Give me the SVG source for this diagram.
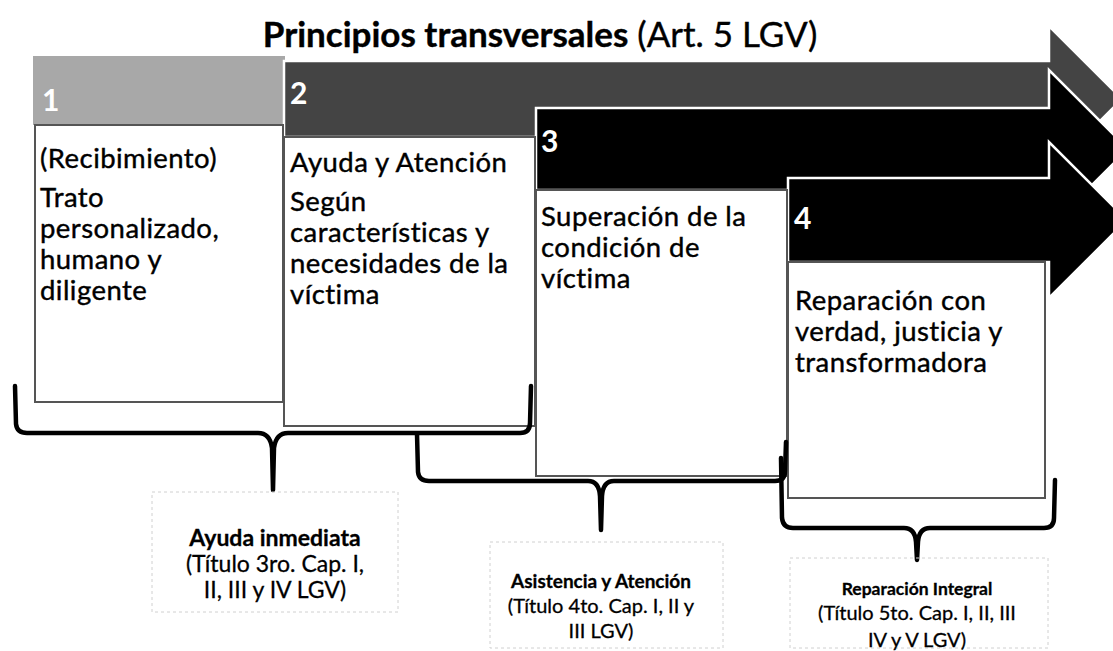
<svg xmlns="http://www.w3.org/2000/svg" width="1113" height="651" viewBox="0 0 1113 651">
<style>
.t{font-family:Lato,"Open Sans","Liberation Sans",sans-serif;fill:#000;stroke:#000;stroke-width:0.4}
.box{fill:#fff;stroke:#555;stroke-width:2}
.txt{font-size:27.5px;letter-spacing:0.45px}
.num{font-family:Lato,"Liberation Sans",sans-serif;font-weight:bold;font-size:30px;fill:#fff}
.arrow{stroke:#fff;stroke-width:2.5;stroke-linejoin:miter}
.brace{fill:none;stroke:#000;stroke-width:4.5;stroke-linejoin:round;stroke-linecap:round}
.lbox{fill:none;stroke:#d0d0d0;stroke-width:1;stroke-dasharray:3 3}
.lt{text-anchor:middle;stroke-width:0.3}
.lb{font-weight:bold}
</style>
<rect width="1113" height="651" fill="#fff"/>
<g id="title">
<text class="t" x="540" y="47" font-size="35" text-anchor="middle"><tspan font-weight="bold">Principios transversales</tspan> (Art. 5 LGV)</text>
</g>
<g id="band1">
<rect x="33" y="56" width="252" height="69" fill="#a8a8a8"/>
<text class="num" x="42" y="111">1</text>
</g>
<g id="band2">
<polygon class="arrow" points="284,61 1049,61 1049,26 1122,99 1049,172 1049,137 284,137" fill="#444"/>
<text class="num" x="290" y="104">2</text>
</g>
<g id="band3">
<polygon class="arrow" points="536,108 1049,108 1049,70 1128,149 1049,228 1049,190 536,190" fill="#000"/>
<text class="num" x="541" y="152">3</text>
</g>
<g id="band4">
<polygon class="arrow" points="788,178 1049,178 1049,142 1127,220 1049,298 1049,262 788,262" fill="#000"/>
<text class="num" x="794" y="229">4</text>
</g>
<g id="box1">
<rect class="box" x="35" y="125" width="248" height="277"/>
<text class="t txt" x="40" y="168">(Recibimiento)</text>
<text class="t txt" x="40" y="207">Trato</text>
<text class="t txt" x="40" y="238">personalizado,</text>
<text class="t txt" x="40" y="269">humano y</text>
<text class="t txt" x="40" y="300">diligente</text>
</g>
<g id="box2">
<rect class="box" x="284" y="137" width="251" height="289"/>
<text class="t txt" x="290" y="172">Ayuda y Atención</text>
<text class="t txt" x="290" y="211">Según</text>
<text class="t txt" x="290" y="242">características y</text>
<text class="t txt" x="290" y="273">necesidades de la</text>
<text class="t txt" x="290" y="304">víctima</text>
</g>
<g id="box3">
<rect class="box" x="536" y="190" width="251" height="286"/>
<text class="t txt" x="541" y="226">Superación de la</text>
<text class="t txt" x="541" y="257">condición de</text>
<text class="t txt" x="541" y="288">víctima</text>
</g>
<g id="box4">
<rect class="box" x="788" y="262" width="257" height="236"/>
<text class="t txt" x="795" y="310">Reparación con</text>
<text class="t txt" x="795" y="341">verdad, justicia y</text>
<text class="t txt" x="795" y="372">transformadora</text>
</g>
<g id="connectors">
<path class="brace" d="M15,386 L16,424 Q17,433 27,433 L258,433 Q270,433 272,448 L273,490 M273,490 L274,448 Q276,433 288,433 L520,433 Q530,433 530,423 L531,386"/>
<path class="brace" d="M417,434 L418,472 Q419,481 429,481 L588,481 Q599,481 600,496 L601,530 M601,530 L602,496 Q603,481 614,481 L775,481 Q785,481 785,471 L786,442"/>
<path class="brace" d="M781,458 L782,518 Q783,528 793,528 L904,528 Q915,528 916,542 L917,560 M917,560 L918,542 Q919,528 930,528 L1044,528 Q1054,528 1054,518 L1055,480"/>
</g>
<g id="label1">
<rect class="lbox" x="152" y="492" width="246" height="120"/>
<text class="t lt lb" x="275" y="546" font-size="23">Ayuda inmediata</text>
<text class="t lt" x="275" y="572" font-size="23">(Título 3ro. Cap. I,</text>
<text class="t lt" x="275" y="598" font-size="23">II, III y IV LGV)</text>
</g>
<g id="label2">
<rect class="lbox" x="490" y="542" width="233" height="106"/>
<text class="t lt lb" x="601" y="588" font-size="19">Asistencia y Atención</text>
<text class="t lt" x="601" y="613" font-size="20">(Título 4to. Cap. I, II y</text>
<text class="t lt" x="601" y="638" font-size="20">III LGV)</text>
</g>
<g id="label3">
<rect class="lbox" x="790" y="558" width="258" height="90"/>
<text class="t lt lb" x="917" y="595" font-size="17.5">Reparación Integral</text>
<text class="t lt" x="917" y="620" font-size="20">(Título 5to. Cap. I, II, III</text>
<text class="t lt" x="917" y="647" font-size="20">IV y V LGV)</text>
</g>
</svg>
